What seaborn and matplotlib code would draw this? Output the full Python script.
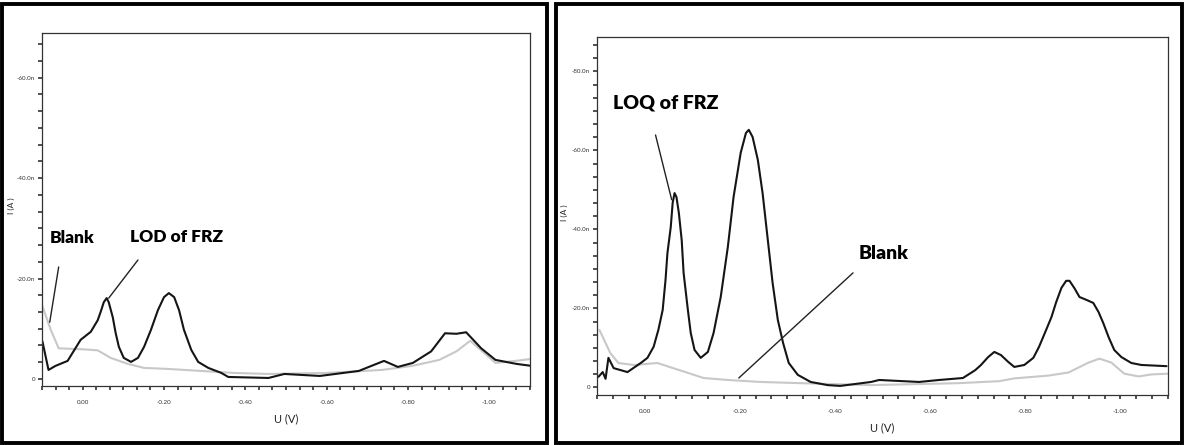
import numpy as np
import pandas as pd
import matplotlib
matplotlib.use("Agg")
import matplotlib.pyplot as plt
from matplotlib.patches import Rectangle
from matplotlib.ticker import MultipleLocator, FuncFormatter
import seaborn as sns

# left panel: LOD of FRZ vs blank (U in V, I in nA)
lod_u = [0.099, 0.084, 0.067, 0.037, 0.005, -0.020, -0.037, -0.044, -0.052, -0.059,
         -0.064, -0.074, -0.081, -0.089, -0.101, -0.119, -0.136, -0.151, -0.168, -0.185,
         -0.200, -0.212, -0.225, -0.237, -0.249, -0.267, -0.284, -0.309, -0.341, -0.358,
         -0.457, -0.496, -0.583, -0.679, -0.741, -0.775, -0.812, -0.857, -0.891, -0.919,
         -0.943, -0.980, -1.015, -1.067, -1.104]
lod_i = [-7.5, -1.8, -2.6, -3.6, -7.8, -9.4, -11.7, -13.3, -15.3, -16.1,
         -15.3, -12.3, -9.2, -6.4, -4.2, -3.4, -4.2, -6.4, -9.8, -13.7,
         -16.3, -17.1, -16.3, -13.7, -9.8, -5.8, -3.4, -2.2, -1.2, -0.4,
         -0.2, -1.0, -0.6, -1.6, -3.6, -2.4, -3.2, -5.5, -9.1, -9.0,
         -9.3, -6.1, -3.8, -3.0, -2.6]
blank1_u = [0.099, 0.079, 0.059, -0.002, -0.037, -0.069, -0.111, -0.151, -0.210, -0.291,
            -0.373, -0.457, -0.600, -0.736, -0.810, -0.877, -0.919, -0.953, -0.990, -1.015,
            -1.064, -1.104]
blank1_i = [-14.5, -9.9, -6.1, -5.9, -5.7, -4.2, -3.0, -2.2, -2.0, -1.6,
            -1.2, -1.0, -1.2, -1.8, -2.6, -3.8, -5.5, -7.6, -5.0, -3.2,
            -3.6, -4.0]

# right panel: LOQ of FRZ vs blank
loq_u = [0.097, 0.088, 0.082, 0.076, 0.065, 0.036, 0.008, -0.006, -0.019, -0.029,
         -0.038, -0.044, -0.048, -0.055, -0.059, -0.063, -0.067, -0.072, -0.078, -0.082,
         -0.091, -0.097, -0.105, -0.118, -0.133, -0.145, -0.160, -0.175, -0.187, -0.202,
         -0.213, -0.219, -0.227, -0.238, -0.248, -0.259, -0.269, -0.280, -0.291, -0.303,
         -0.322, -0.349, -0.385, -0.411, -0.476, -0.493, -0.577, -0.619, -0.669, -0.695,
         -0.707, -0.722, -0.735, -0.749, -0.764, -0.777, -0.798, -0.817, -0.829, -0.844,
         -0.855, -0.865, -0.876, -0.886, -0.893, -0.903, -0.914, -0.928, -0.943, -0.954,
         -0.964, -0.975, -0.987, -1.002, -1.023, -1.044, -1.097]
loq_i = [-2.7, -3.9, -2.2, -7.5, -4.9, -3.9, -6.2, -7.5, -10.3, -14.6,
         -19.6, -27.2, -34.0, -40.6, -46.7, -49.2, -48.2, -44.2, -37.3, -29.0,
         -19.6, -13.8, -9.5, -7.5, -9.0, -13.8, -22.9, -35.6, -48.2, -59.4,
         -64.4, -65.2, -63.4, -57.6, -49.2, -37.3, -26.5, -17.1, -11.3, -6.2,
         -3.2, -1.4, -0.6, -0.4, -1.4, -1.9, -1.4, -1.9, -2.4, -4.4,
         -5.7, -7.7, -9.0, -8.2, -6.5, -5.2, -5.7, -7.5, -10.3, -14.6,
         -17.8, -21.6, -25.2, -27.0, -27.0, -25.2, -22.9, -22.2, -21.4, -19.1,
         -16.3, -12.8, -9.5, -7.7, -6.2, -5.7, -5.4]
blank2_u = [0.095, 0.072, 0.055, 0.023, -0.027, -0.055, -0.091, -0.124, -0.175, -0.244,
            -0.326, -0.476, -0.661, -0.745, -0.777, -0.848, -0.891, -0.933, -0.956, -0.981,
            -1.008, -1.038, -1.065, -1.101]
blank2_i = [-14.6, -8.7, -6.2, -5.7, -6.2, -5.1, -3.7, -2.4, -1.9, -1.4,
            -1.1, -0.6, -1.1, -1.6, -2.3, -3.0, -3.8, -6.3, -7.3, -6.3,
            -3.5, -2.8, -3.3, -3.5]

# annotation text (label, x, y) and pointer lines (x0, y0, x1, y1)
left_notes = [("Blank", 0.025, -28.1), ("LOD of FRZ", -0.232, -28.3)]
left_lines = [(0.059, -22.3, 0.081, -11.3), (-0.136, -23.7, -0.064, -16.1)]
right_notes = [("LOQ of FRZ", -0.044, -71.9), ("Blank", -0.503, -33.8)]
right_lines = [(-0.023, -63.9, -0.057, -47.5), (-0.438, -29.0, -0.198, -2.4)]

sns.set_style("white")
narrow = ["Lato", "DejaVu Sans"]
plt.rcParams['font.family'] = narrow

fig = plt.figure(figsize=(11.84, 4.45), dpi=100)

# outer thick frames around each panel
fig.patches.append(Rectangle((2 / 1184, 2 / 445), 545 / 1184, 439 / 445, transform=fig.transFigure,
                             fill=False, lw=2.8, ec="black"))
fig.patches.append(Rectangle((556 / 1184, 2 / 445), 626 / 1184, 439 / 445, transform=fig.transFigure,
                             fill=False, lw=2.8, ec="black"))

ax1 = fig.add_axes([42 / 1184, 59 / 445, 488 / 1184, 353 / 445])
ax2 = fig.add_axes([597 / 1184, 50 / 445, 571 / 1184, 358 / 445])


def fmt_y(v, pos):
    if abs(v) < 1e-9:
        return "0"
    return "%.1fn" % v


def style_axis(ax, ylims, notes, lines, note_size, ylab_x):
    ax.set_xlim(0.1, -1.1)
    ax.set_ylim(*ylims)
    ax.xaxis.set_major_locator(MultipleLocator(0.2))
    ax.xaxis.set_minor_locator(MultipleLocator(0.2 / 6))
    ax.yaxis.set_major_locator(MultipleLocator(20))
    ax.yaxis.set_minor_locator(MultipleLocator(20 / 6))
    ax.xaxis.set_major_formatter(FuncFormatter(lambda v, p: "%.2f" % v if abs(v) > 1e-9 else "0.00"))
    ax.yaxis.set_major_formatter(FuncFormatter(fmt_y))
    ax.tick_params(axis="both", which="both", direction="out", length=3, width=1.1,
                   color="#222222", labelsize=4.5, labelcolor="#333333",
                   bottom=True, left=True, pad=2)
    ax.tick_params(axis="x", which="major", pad=7)
    for s in ax.spines.values():
        s.set_color("#333333")
        s.set_linewidth(0.9)
    ax.set_xlabel("U (V)", fontsize=8, labelpad=6, color="#222222")
    ax.set_ylabel("I (A )", fontsize=6, color="#222222")
    ax.yaxis.set_label_coords(ylab_x, 0.51)
    for label, x, y in notes:
        ax.text(x, y, label, fontsize=note_size, fontweight="heavy", ha="center", va="center",
                color="black", family=narrow)
    for x0, y0, x1, y1 in lines:
        ax.annotate("", xy=(x1, y1), xytext=(x0, y0),
                    arrowprops=dict(arrowstyle="-", color="#222222", lw=1.0,
                                    shrinkA=0, shrinkB=0))


df1 = pd.DataFrame({"U": lod_u, "I": lod_i})
dfb1 = pd.DataFrame({"U": blank1_u, "I": blank1_i})
sns.lineplot(data=dfb1, x="U", y="I", ax=ax1, color="#c8c8c8", lw=1.5, estimator=None)
sns.lineplot(data=df1, x="U", y="I", ax=ax1, color="#151515", lw=1.5, estimator=None)
style_axis(ax1, (1.4, -68.9), left_notes, left_lines, 12.5, -0.055)

df2 = pd.DataFrame({"U": loq_u, "I": loq_i})
dfb2 = pd.DataFrame({"U": blank2_u, "I": blank2_i})
sns.lineplot(data=dfb2, x="U", y="I", ax=ax2, color="#c8c8c8", lw=1.5, estimator=None)
sns.lineplot(data=df2, x="U", y="I", ax=ax2, color="#151515", lw=1.5, estimator=None)
style_axis(ax2, (1.9, -88.7), right_notes, right_lines, 14, -0.05)

fig.savefig("out.png", dpi=100)
